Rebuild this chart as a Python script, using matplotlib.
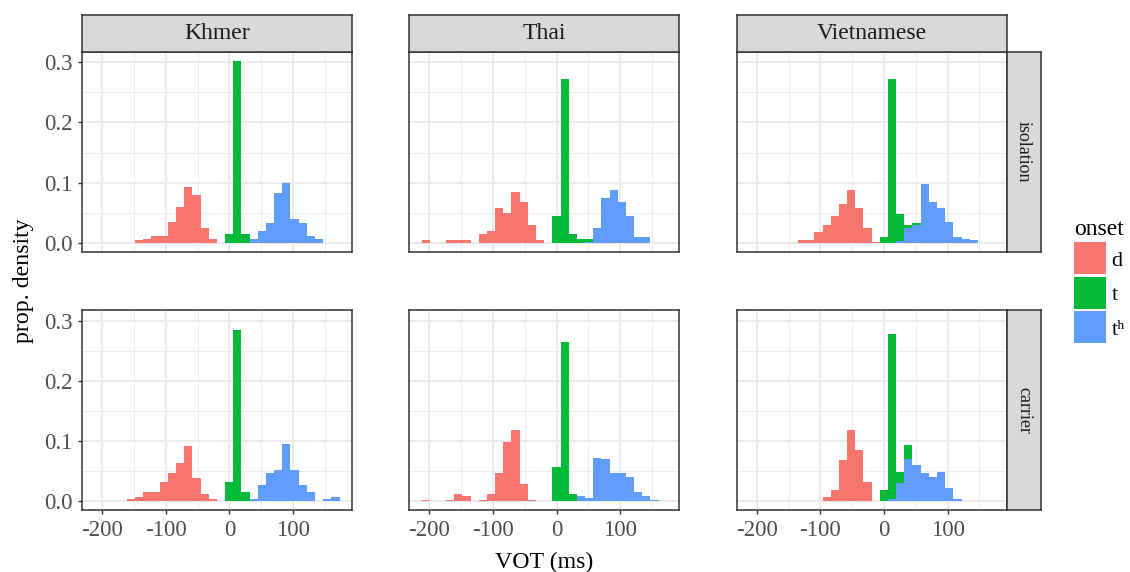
import numpy as np
import matplotlib.pyplot as plt
from matplotlib.patches import Patch

plt.rcParams['font.family'] = ['Liberation Serif', 'DejaVu Serif']
plt.rcParams['axes.unicode_minus'] = False

# 30 histogram bins over the VOT range (ms)
bin_edges = np.linspace(-212.4, 173.3, 31)

languages = ['Khmer', 'Thai', 'Vietnamese']
contexts = ['isolation', 'carrier']
onsets = ['d', 't', 'tʰ']
onset_colors = ['#F8766D', '#00BA38', '#619CFF']

x_ticks = [-200, -100, 0, 100]
x_tick_labels = ['-200', '-100', '0', '100']
y_ticks = [0.0, 0.1, 0.2, 0.3]
y_tick_labels = ['0.0', '0.1', '0.2', '0.3']

# density per bin, one list per onset
khmer_iso_d = [0, 0, 0, 0, 0, .004, .007, .012, .012, .035,
               .060, .092, .080, .024, .007, 0, 0, 0, 0, 0,
               0, 0, 0, 0, 0, 0, 0, 0, 0, 0]
khmer_iso_t = [0, 0, 0, 0, 0, 0, 0, 0, 0, 0,
               0, 0, 0, 0, 0, 0, .015, .302, .015, 0,
               0, 0, 0, 0, 0, 0, 0, 0, 0, 0]
khmer_iso_th = [0, 0, 0, 0, 0, 0, 0, 0, 0, 0,
                0, 0, 0, 0, 0, 0, 0, 0, 0, .007,
                .020, .032, .083, .100, .040, .032, .012, .007, 0, 0]

thai_iso_d = [.004, 0, 0, .004, .004, .004, 0, .015, .019, .057,
              .050, .085, .067, .029, .004, 0, 0, 0, 0, 0,
              0, 0, 0, 0, 0, 0, 0, 0, 0, 0]
thai_iso_t = [0, 0, 0, 0, 0, 0, 0, 0, 0, 0,
              0, 0, 0, 0, 0, 0, .044, .272, .015, .006,
              .004, 0, 0, 0, 0, 0, 0, 0, 0, 0]
thai_iso_th = [0, 0, 0, 0, 0, 0, 0, 0, 0, 0,
               0, 0, 0, 0, 0, 0, 0, 0, 0, 0,
               .002, .025, .075, .088, .067, .044, .009, .009, 0, 0]

viet_iso_d = [0, 0, 0, 0, 0, 0, .004, .004, .017, .029,
              .045, .065, .088, .057, .024, .001, .001, 0, 0, 0,
              0, 0, 0, 0, 0, 0, 0, 0, 0, 0]
viet_iso_t = [0, 0, 0, 0, 0, 0, 0, 0, 0, 0,
              0, 0, 0, 0, 0, 0, .009, .273, .044, .004,
              .002, 0, 0, 0, 0, 0, 0, 0, 0, 0]
viet_iso_th = [0, 0, 0, 0, 0, 0, 0, 0, 0, 0,
               0, 0, 0, 0, 0, 0, 0, 0, .003, .025,
               .030, .097, .067, .058, .035, .010, .006, .004, 0, 0]

khmer_car_d = [0, 0, 0, 0, .004, .007, .015, .015, .032, .047,
               .063, .091, .039, .012, .004, 0, 0, 0, 0, 0,
               0, 0, 0, 0, 0, 0, 0, 0, 0, 0]
khmer_car_t = [0, 0, 0, 0, 0, 0, 0, 0, 0, 0,
               0, 0, 0, 0, 0, 0, .032, .285, .015, 0,
               0, 0, 0, 0, 0, 0, 0, 0, 0, 0]
khmer_car_th = [0, 0, 0, 0, 0, 0, 0, 0, 0, 0,
                0, 0, 0, 0, 0, 0, 0, 0, 0, .004,
                .027, .047, .052, .095, .052, .027, .015, 0, .004, .007]

thai_car_d = [.002, 0, 0, .002, .012, .009, 0, .002, .012, .047,
              .098, .119, .029, .002, 0, 0, 0, 0, 0, 0,
              0, 0, 0, 0, 0, 0, 0, 0, 0, 0]
thai_car_t = [0, 0, 0, 0, 0, 0, 0, 0, 0, 0,
              0, 0, 0, 0, 0, 0, .057, .265, .012, 0,
              0, 0, 0, 0, 0, 0, 0, 0, 0, 0]
thai_car_th = [0, 0, 0, 0, 0, 0, 0, 0, 0, 0,
               0, 0, 0, 0, 0, 0, 0, 0, 0, .009,
               .006, .072, .070, .047, .047, .040, .015, .009, .002, 0]

viet_car_d = [0, 0, 0, 0, 0, 0, 0, 0, .001, .007,
              .019, .068, .118, .085, .032, .001, 0, 0, 0, 0,
              0, 0, 0, 0, 0, 0, 0, 0, 0, 0]
viet_car_t = [0, 0, 0, 0, 0, 0, 0, 0, 0, 0,
              0, 0, 0, 0, 0, 0, .019, .274, .018, .023,
              0, 0, 0, 0, 0, 0, 0, 0, 0, 0]
viet_car_th = [0, 0, 0, 0, 0, 0, 0, 0, 0, 0,
               0, 0, 0, 0, 0, 0, 0, .004, .030, .070,
               .060, .047, .040, .048, .022, .004, 0, .001, .001, 0]

panels = {
    ('Khmer', 'isolation'): [khmer_iso_d, khmer_iso_t, khmer_iso_th],
    ('Thai', 'isolation'): [thai_iso_d, thai_iso_t, thai_iso_th],
    ('Vietnamese', 'isolation'): [viet_iso_d, viet_iso_t, viet_iso_th],
    ('Khmer', 'carrier'): [khmer_car_d, khmer_car_t, khmer_car_th],
    ('Thai', 'carrier'): [thai_car_d, thai_car_t, thai_car_th],
    ('Vietnamese', 'carrier'): [viet_car_d, viet_car_t, viet_car_th],
}

W, H = 1130, 572
fig = plt.figure(figsize=(W / 100, H / 100), dpi=100)


def rect(x0, y0, x1, y1):
    # pixel box -> figure fraction
    return [x0 / W, 1 - y1 / H, (x1 - x0) / W, (y1 - y0) / H]


col_left = [82, 409.3, 736.7]
panel_w = 269.8
row_top = [52, 310.5]
panel_h = 199.8

ymax = max(np.sum(v, axis=0).max() for v in panels.values())
xlo, xhi = bin_edges[0], bin_edges[-1]
xpad = 0.05 * (xhi - xlo)
border = '#333333'

for r, ctx in enumerate(contexts):
    for c, lang in enumerate(languages):
        x0, y0 = col_left[c], row_top[r]
        ax = fig.add_axes(rect(x0, y0, x0 + panel_w, y0 + panel_h))
        vals = panels[(lang, ctx)]
        bottom = np.zeros(30)
        for i in [2, 1, 0]:
            h = np.array(vals[i])
            ax.bar(bin_edges[:-1], h, width=np.diff(bin_edges), align='edge',
                   bottom=bottom, color=onset_colors[i], linewidth=0, zorder=2)
            bottom += h
        ax.set_xlim(xlo - xpad, xhi + xpad)
        ax.set_ylim(-0.05 * ymax, 1.05 * ymax)
        ax.set_xticks(x_ticks)
        ax.set_xticklabels(x_tick_labels)
        ax.set_xticks([-150, -50, 50, 150], minor=True)
        ax.set_yticks(y_ticks)
        ax.set_yticklabels(y_tick_labels)
        ax.set_yticks([0.05, 0.15, 0.25], minor=True)
        ax.grid(which='major', color='#EBEBEB', linewidth=1.3, zorder=0)
        ax.grid(which='minor', color='#EBEBEB', linewidth=0.65, zorder=0)
        ax.set_axisbelow(True)
        ax.tick_params(which='minor', length=0)
        ax.tick_params(which='major', length=3, width=1.0, color=border,
                       labelsize=16.5, labelcolor='#4D4D4D', pad=4)
        ax.tick_params(bottom=(r == 1), labelbottom=(r == 1),
                       left=(c == 0), labelleft=(c == 0))
        for s in ax.spines.values():
            s.set_color(border)
            s.set_linewidth(1.1)

        # strips
        if r == 0:
            sx = fig.add_axes(rect(x0, 14.7, x0 + panel_w, y0))
            sx.set_facecolor('#D9D9D9')
            sx.set_xticks([])
            sx.set_yticks([])
            for s in sx.spines.values():
                s.set_color(border)
                s.set_linewidth(1.1)
            sx.text(0.5, 0.5, lang, ha='center', va='center', fontsize=17,
                    color='#1A1A1A', transform=sx.transAxes)
        if c == 2:
            sy = fig.add_axes(rect(x0 + panel_w, y0, x0 + panel_w + 34, y0 + panel_h))
            sy.set_facecolor('#D9D9D9')
            sy.set_xticks([])
            sy.set_yticks([])
            for s in sy.spines.values():
                s.set_color(border)
                s.set_linewidth(1.1)
            sy.text(0.5, 0.5, ctx, ha='center', va='center', fontsize=13,
                    color='#1A1A1A', rotation=-90, transform=sy.transAxes)

fig.text(24 / W, 1 - 281 / H, 'prop. density', rotation=90, ha='center',
         va='center', fontsize=17.2)
fig.text(544.5 / W, 1 - 568 / H, 'VOT (ms)', ha='center', va='baseline',
         fontsize=17.2)

handles = [Patch(facecolor=col, edgecolor='none') for col in onset_colors]
leg = fig.legend(handles, onsets, loc='upper left',
                 bbox_to_anchor=(1074 / W, 1 - 219 / H), frameon=False,
                 title='onset', title_fontsize=17, fontsize=16,
                 handlelength=1.44, handleheight=1.84, labelspacing=0.11,
                 handletextpad=0.25, borderpad=0, borderaxespad=0,
                 alignment='left')

plt.savefig('out.png', dpi=100)
